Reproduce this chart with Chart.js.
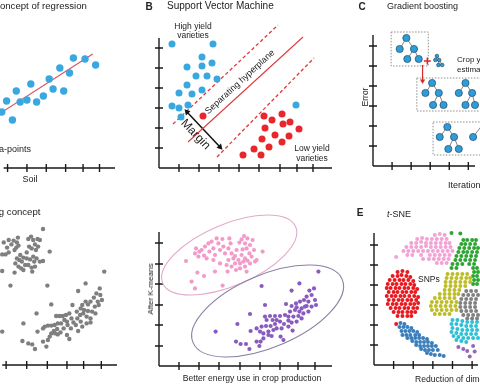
<!DOCTYPE html>
<html>
<head>
<meta charset="utf-8">
<script src="https://cdn.jsdelivr.net/npm/chart.js@4.4.1/dist/chart.umd.min.js"></script>
<style>
  html, body { margin: 0; padding: 0; background: #fff; }
  #fig { position: relative; width: 480px; height: 384px; overflow: hidden; background: #fff;
         font-family: "Liberation Sans", Arial, sans-serif; color: #222; }
  #fig canvas { position: absolute; left: 0; top: 0; }
  .t { position: absolute; white-space: nowrap; line-height: 1; }
  .l { transform: translate(0, -50%); }
  .c { transform: translate(-50%, -50%); }
  .r { transform: translate(-100%, -50%); }
  .b { font-weight: bold; }
</style>
</head>
<body>
<div id="fig">
  <canvas id="cA" width="480" height="384"></canvas>
  <canvas id="cB" width="480" height="384"></canvas>
  <canvas id="cC" width="480" height="384"></canvas>
  <canvas id="cD" width="480" height="384"></canvas>
  <canvas id="cD2" width="480" height="384"></canvas>
  <canvas id="cE" width="480" height="384"></canvas>

  <!-- titres -->
  <div class="t l" style="left:-7px;top:6px;font-size:9.6px">Concept of regression</div>
  <div class="t c b" style="left:149px;top:7px;font-size:10px">B</div>
  <div class="t l" style="left:167px;top:6px;font-size:10px">Support Vector Machine</div>
  <div class="t c b" style="left:362px;top:7px;font-size:10px">C</div>
  <div class="t l" style="left:387px;top:6px;font-size:9px">Gradient boosting</div>
  <div class="t l" style="left:-39px;top:212px;font-size:9.6px">Clustering concept</div>
  <div class="t c b" style="left:360px;top:213px;font-size:10px">E</div>
  <div class="t l" style="left:387px;top:214px;font-size:9px"><i>t</i>-SNE</div>

  <!-- axes / annotations -->
  <div class="t r" style="left:31px;top:149px;font-size:9px">Data-points</div>
  <div class="t c" style="left:30px;top:179px;font-size:9px">Soil</div>
  <div class="t c" style="left:193px;top:26px;font-size:8.5px">High yield</div>
  <div class="t c" style="left:193px;top:35px;font-size:8.5px">varieties</div>
  <div class="t c" style="left:312px;top:148px;font-size:8.5px">Low yield</div>
  <div class="t c" style="left:312px;top:158px;font-size:8.5px">varieties</div>
  <div class="t c" style="left:240px;top:82px;font-size:9px;transform:translate(-50%,-50%) rotate(-42.5deg)">Separating hyperplane</div>
  <div class="t c" style="left:196px;top:134px;font-size:12px;transform:translate(-50%,-50%) rotate(46deg)">Margin</div>
  <div class="t l" style="left:457px;top:60px;font-size:8px">Crop yield</div>
  <div class="t l" style="left:457px;top:70px;font-size:8px">estimation</div>
  <div class="t c" style="left:365px;top:97px;font-size:8.5px;transform:translate(-50%,-50%) rotate(-90deg)">Error</div>
  <div class="t l" style="left:448px;top:185px;font-size:9px">Iterations</div>
  <div class="t c" style="left:151px;top:289px;font-size:8px;transform:translate(-50%,-50%) rotate(-90deg)">After K-means</div>
  <div class="t c" style="left:252px;top:378px;font-size:8.6px">Better energy use in crop production</div>
  <div class="t l" style="left:415px;top:379px;font-size:8.6px">Reduction of dimensions</div>
  <div class="t l" style="left:418px;top:279px;font-size:8.5px">SNPs</div>
</div>

<script>
// ---- A : régression ----
const aTicks = [10, 20, 30, 40, 49, 57.5];
const soilPoints = [[7,28],[9.5,33.5],[14.5,38.5],[12.5,24],[16.5,33],[20,34],[22,42],[25,33],[28.5,36],[31.5,44.5],[33.5,39.5],[37,50],[39,38.5],[42,47.5],[44,55],[50,54.5],[55.5,51.5]];
const regLine = [[4,26],[54,57]];

// ---- B : SVM ----
const bTicksX = [10, 20, 30, 40, 50, 60.5, 69, 77];
const bTicksY = [10, 20, 30, 40, 50, 60];
const highYield = [[6.5,62],[27,62],[21.5,55.5],[14,50.5],[21.5,51],[26.5,52.5],[18.5,46],[24,46],[29,44.5],[14,41.5],[21.5,39],[10,37.5],[16.5,37],[6.5,31],[10,30],[14.5,31.5],[11,25.5],[68.5,31.5]];
const lowYield = [[22,26],[52.5,26],[61.5,27],[56.5,24],[53,20],[62,22],[65.5,23],[70,19.5],[58,16.5],[51.5,14.5],[65,16],[61.5,13],[55,10.5],[47.5,9.5],[42,6.5],[51,6.5]];
const hyperplane = [[14.5,13],[72,65.5]];
const marginUpper = [[7,22],[59.5,71.5]];
const marginLower = [[29,5.5],[77.5,55]];
const marginArrow = [[14,28],[30.5,10.5]];

// ---- C : gradient boosting ----
const cTicksX = [10, 20, 30, 40, 50];
const cTicksY = [10, 20, 30, 40, 50, 60];
// noeuds : racine, gauche, droite, droite-gauche, droite-droite
const tree1 = [[17.5,64],[14,58.5],[21.5,58.5],[18,53.5],[24,53.5]];
const treeSmall = [[33.5,55],[32.7,53],[34.7,53],[34.3,50.5],[36.3,50.5]];
const tree2 = [[31,41.5],[27.5,36.5],[34.5,36.5],[31.5,30.5],[37,30.5]];
const tree3 = [[48.5,41.5],[45,36.5],[52,36.5],[48.5,30.5],[53.5,30.5]];
const tree4 = [[39,19.5],[35,14.5],[42.5,14.5],[39.5,8.5],[45,8.5]];
const tree5 = [[56.5,19.5],[52.5,14.5],[60,14.5],[57,8.5],[62.5,8.5]];
const box1 = [[9.5,67],[29,67],[29,50],[9.5,50],[9.5,67]];
const box2 = [[23,44],[62,44],[62,27.5],[23,27.5],[23,44]];
const box3 = [[31.5,22],[62,22],[62,5.5],[31.5,5.5],[31.5,22]];
const plusMark = [[28.5,52.5]];
const boostArrow = [[26,50.5],[26,42.5]];

// ---- D : clustering ----
const dTicks = [10, 20.5, 31, 41, 49.5, 58.5];
const groupTop = [[28.8,68],[8.8,61.3],[10.5,58.7],[11.3,62.5],[12.7,60.3],[13.8,62.2],[15.5,61.3],[16,63.7],[14.3,57.5],[15.2,58.7],[16.3,59.7],[8,55.3],[9.7,55.3],[11.3,56.3],[15.5,53.3],[17.2,55],[16.7,52.5],[14.7,50.8],[18,51.7],[18.8,53.7],[19.7,50],[20.5,56.3],[21.3,63],[22.7,64.2],[23.8,62.5],[24.7,60.3],[26,63],[27.2,62.5],[21.7,59.2],[23,58.3],[25.2,57.5],[26.3,59.2],[20.5,53.3],[22.2,52.8],[23.8,54.2],[25.5,53.3],[27.2,51.7],[28.8,52],[21.3,50],[23,48.7],[24.7,49.2],[24.3,51.7],[17.7,48.3],[14.3,46.2],[16.3,49.2],[18.8,47.5],[23.3,46.7],[32.2,56.7],[8,47],[12.2,39.7],[31,39.7]];
const groupBottom = [[60,46.7],[50.5,40.8],[46.7,37],[57.7,38.3],[56,35.8],[54.7,33.7],[58,35],[58.8,32.5],[56.7,31.7],[57.2,30],[55.2,29.2],[53,31.7],[51.7,30.3],[50.5,31.7],[48.8,30],[48,28.3],[49.7,27.5],[51.7,27],[53.8,26.7],[55.5,25.8],[51,24.2],[53,23.3],[49.3,25.8],[47.7,25],[46,26.7],[46.3,23.3],[48,21.7],[45.5,20],[43.8,30],[43.3,23.3],[42.2,25.8],[40.5,25],[38.8,24.5],[37.2,24.5],[35.5,24.5],[33,30.3],[41,21.7],[39.7,22.5],[38,20.8],[36.3,20.8],[34.7,20],[33,19.7],[31.3,19.7],[29.7,19.2],[41.3,20],[43,18.3],[44.3,21.3],[46.7,17],[48.8,19.2],[51,20.8],[53,21.3],[39.3,18.3],[37.7,16.3],[36,18],[34.3,17],[33,15.8],[32.2,14.2],[31.3,12.5],[30.5,9.2],[28.8,11.7],[26,16.7],[25.5,25.8],[18.8,20.8],[28.8,18.3],[18.3,12],[21.3,10.8],[23.3,10.3],[24.7,8],[41,15],[42.2,13],[36.3,15.3],[35,15.8],[8,16.7]];

// ---- D2 : après K-means ----
const d2TicksX = [10, 20, 30, 40.5, 50.5, 60.5, 69.5, 78];
const d2TicksY = [10, 20.5, 30.5, 41, 51, 61.5];
const clusterPink = [[48.8,68.5],[13.5,52.5],[18,56.3],[18.5,58.8],[19.7,54.7],[21.3,58],[23,59.7],[22.5,55.2],[25.2,57.2],[26.3,62.2],[27.2,58.8],[28,55.5],[29.7,61.3],[30.5,58],[31.7,63.5],[32.2,59.7],[33,56.3],[34.7,58.8],[35.2,63.8],[35.8,61.3],[34.7,53],[36.3,56.3],[37.2,53.8],[38,51.3],[33.8,50.5],[34.3,47.2],[38.5,48],[40.5,48.8],[41.3,63.3],[42.5,65],[44.2,63.8],[43,61.3],[41.8,58.3],[43.8,58.8],[45.5,60.5],[46.8,63],[47.5,58],[45.2,56.3],[43,53.8],[44.2,52.7],[46.3,54.7],[48,52.2],[48.8,53],[41.3,55.5],[40.5,51.3],[43,49.7],[43.8,47.2],[39.7,53],[51.8,57.2],[19.2,46.7],[22.5,45],[28,47.2],[16.3,42.2],[18,38.8],[31.8,40.2],[27.2,53],[30.5,51.3],[24.7,61.3],[28.8,63.8],[38.8,58],[40.2,61.7],[42.2,52.2],[36.3,49.7],[38,55],[20.2,57.2],[23.8,53.8],[45.5,51.3]];
const clusterPurple = [[79.7,47.2],[70.2,41.3],[66.3,37.7],[77.5,38.8],[75.2,37.7],[76.3,35.5],[78,33],[73.8,34.7],[74.7,32.2],[72.5,33],[70.5,32.2],[68.5,31.3],[66.3,30],[76.3,29.7],[78.5,30.5],[73,29.7],[71.3,28.8],[74.7,27.2],[72.2,26.3],[70.2,27.2],[68,28],[65.5,27.2],[69.7,25],[67.2,24.7],[64.7,24.7],[71.3,23.8],[68.8,22.2],[66.3,21.7],[63,25.5],[60.5,25],[58,25],[55.5,25],[53,24.7],[63.5,31],[51.3,40],[53,30.5],[45.5,26],[39.2,21],[28.3,17.2],[45.8,17.5],[48.8,18.8],[51.3,19.7],[53.5,20],[55.8,20],[58,21],[60.5,22.2],[62.5,21],[64.7,19.7],[66.8,17.7],[61.3,18.8],[58.8,18.8],[57.2,18],[54.7,17.2],[52.2,16.3],[50.5,17.2],[52.2,13.8],[54.7,15.5],[56.3,15],[60.8,14.7],[62.2,13],[50.8,12.2],[48.8,12.2],[50.2,10],[38.5,12.2],[40.8,11],[43.5,11],[45.2,8.5],[58.8,23],[53.8,23],[56.8,23],[73.8,30],[68.8,29.3],[64.7,22.7]];
const kmeansRings = [
  { c: [35.1, 55.5], r: [36.1, 15.4], angle: 23, color: '#e2aac9' },
  { c: [54.3, 27.5], r: [40.5, 18.1], angle: 23, color: '#8c80a4' }
];

// ---- E : t-SNE ----
const eTicksX = [10, 20, 30, 40, 50];
const eTicksY = [10, 20, 30, 40, 50, 60];
const snePink = [[31,65],[33.5,65.5],[36,65],[22,63],[24.5,63.5],[27,63],[29.5,63],[32,63],[34.5,63],[37,63],[19,61],[21.5,61],[24,61.5],[26.5,61],[29,61],[31.5,61],[34,61],[36.5,61],[38.5,61],[16.5,59],[19,59],[21.5,59],[24,59],[26.5,59.5],[29,59],[31.5,59],[34,59],[36.5,59],[39,59],[15,57],[17.5,57],[20,57],[22.5,57],[25,57],[27.5,57],[30,57],[32.5,57],[35,57],[37.5,57],[40,57],[17,55],[19.5,55],[24,55],[28.5,55],[31,55],[33.5,55],[36,55],[38.5,55],[25,53],[28,53],[30.5,53],[33,53],[35.5,53],[38,53],[32,51],[34.5,51],[37,51],[11.3,54]];
const sneRed = [[12,46.5],[14.5,47],[17,46.5],[9.5,44.5],[12,44.5],[14,45],[16.5,44.5],[18.5,44],[8,42.5],[10.5,42.5],[13,42.5],[15,42.5],[17.5,42.5],[20,42],[7,40.5],[9.5,40.5],[11.5,40.5],[14,40.5],[16,40.5],[18.5,40.5],[20.5,40],[6.5,38.5],[8.5,38.5],[11,38.5],[13,38.5],[15.5,38.5],[17.5,38.5],[20,38.5],[22,38],[7.5,36.5],[10,36.5],[12,36.5],[14.5,36.5],[16.5,36.5],[19,36.5],[21,36.5],[6.5,34.5],[9,34.5],[11,34.5],[13.5,34.5],[15.5,34.5],[18,34.5],[20.5,34.5],[22.5,34],[7.5,32.5],[10,32.5],[12.5,32.5],[14.5,32.5],[17,32.5],[19,32.5],[21.5,32.5],[7,30.5],[9.5,30.5],[11.5,30.5],[14,30.5],[16,30.5],[18.5,30.5],[20.5,30.5],[22.5,31],[8.5,28.5],[11,28.5],[13,28.5],[15.5,28.5],[17.5,28.5],[20,28.5],[22,28.5],[10,26.5],[12.5,26.5],[14.5,26.5],[17,26.5],[19,26.5],[21,26.5],[12,24.5],[14.5,24.5],[17,24.5],[19,24.5],[11.3,20.5]];
const sneBlue = [[13.5,21],[15.5,20.5],[13,19],[15,19],[17,19],[19,18.5],[14,17],[16,17],[18,17],[20,17],[22,16.5],[14.5,15],[16.5,15],[18.5,15],[21,15],[23,15],[17,13.5],[19,13.5],[21,13.5],[23,13.5],[25,13.5],[27,13],[19.5,12],[21.5,11.5],[23.5,11.5],[25.5,11.5],[27.5,11.5],[29.5,11],[21.5,10],[23.5,9.5],[25.5,9.5],[27.5,9.5],[29.5,9.5],[31.5,9.5],[24,8],[26,7.5],[28,7.5],[30,7.5],[32.5,7.5],[27,6],[29,5.5],[31,5],[33.5,5],[35.5,4.5]];
const sneOlive = [[37.5,45.5],[40,45.5],[42.5,45.5],[45,45.5],[47.5,45.5],[37,43.5],[39.5,43.5],[42,43.5],[44.5,43.5],[47,43.5],[49,43.5],[36.5,41.5],[39,41.5],[41.5,41.5],[44,41.5],[46.5,41.5],[49,41.5],[36.5,39.5],[39,39.5],[41.5,39.5],[44,39.5],[46.5,39.5],[36,37.5],[38.5,37.5],[41,37.5],[43.5,37.5],[33.5,35.5],[36,35.5],[38.5,35.5],[41,35.5],[43,35.5],[31,33.5],[33.5,33.5],[36,33.5],[38.5,33.5],[41,33.5],[29.5,31.5],[32,31.5],[34.5,31.5],[37,31.5],[39.5,31.5],[42,31.5],[29,29.5],[31.5,29.5],[34,29.5],[36.5,29.5],[39,29.5],[41.5,29.5],[29.5,27.5],[32,27.5],[34.5,27.5],[37,27.5],[39.5,27.5],[42,27.5],[31,25.5],[33.5,25.5],[36,25.5],[38.5,25.5]];
const sneGreen = [[39.5,66],[44,65.8],[45.5,62.5],[47.5,62.5],[50,62.5],[52,62.5],[44.5,60.5],[46.5,60.5],[49,60.5],[51.5,60.5],[43.5,58.5],[46,58.5],[48.5,58.5],[51,58.5],[53,58.5],[43,56.5],[45.5,56.5],[47.5,56.5],[50,56.5],[52.5,56.5],[42,54.5],[44.5,54.5],[47,54.5],[49.5,54.5],[52,54.5],[41.5,52.5],[44,52.5],[46.5,52.5],[49,52.5],[51.5,52.5],[40,50.5],[42.5,50.5],[45,50.5],[48.5,50.5],[51,50.5],[39.5,48.5],[42,48.5],[50.5,48.5],[52.5,48.5],[51,46.5],[53,46.5],[50.5,44.5],[52.5,44.5],[51,42.5],[53,42.5],[50.5,40.5],[52.5,40.5]];
const sneGray = [[47,37],[49.5,37],[52,37],[45.5,35],[48,35],[50.5,35],[53,35],[44.5,33],[47,33],[49.5,33],[52,33],[44,31],[46.5,31],[49,31],[51.5,31],[44,29],[46.5,29],[49,29],[51.5,29],[44.5,27],[47,27],[49.5,27],[52,27],[45.5,25],[48,25],[50.5,25],[53,25],[47.5,23.3],[50,23.3],[52.5,23.3]];
const sneCyan = [[40,22.5],[42.5,22.5],[45,22],[47.5,21.5],[50,21.5],[52.5,21.5],[39.5,20.5],[42,20.5],[44.5,20],[47,19.5],[49.5,19.5],[52,19.5],[40,18.5],[42.5,18],[45,17.5],[47.5,17.5],[50,17.5],[52.5,17.5],[39.5,16.5],[42,16],[44.5,15.5],[47,15.5],[49.5,15.5],[52,15.5],[40.5,14.5],[43,14],[45.5,13.5],[48,13.5],[50.5,13.5],[53,13.5],[42,12.5],[44.5,12],[47,11.5]];
const snePurple = [[43,9],[45.5,8],[47.5,7],[48.8,4.3],[51.3,6.8],[50.5,9.5]];
const sneOrange = [[51.5,67.5],[53.5,68.5]];

// ---------- helpers ----------
const pts = arr => arr.map(([x, y]) => ({ x, y }));

function dots(arr, color, r, extra) {
  return Object.assign({ data: pts(arr), backgroundColor: color, borderWidth: 0,
    pointRadius: r, pointHoverRadius: r, clip: false, order: 1 }, extra || {});
}
function line(arr, color, w, dash) {
  return { data: pts(arr), showLine: true, borderColor: color, borderWidth: w,
    borderDash: dash || [], pointRadius: 0, clip: false, order: 3, spanGaps: false };
}
// arêtes d'un arbre : racine-gauche, racine-droite, droite-enfants
function treeEdges(t) {
  const [root, l, r, rl, rr] = t;
  return line([l, root, r, rl, [r[0], null], r, rr], '#6f6256', 0.8);
}
function treeNodes(t, radius) {
  return dots(t, '#2f9bd7', radius, { borderColor: '#1d4f70', borderWidth: 0.7 });
}

// axes avec graduations qui traversent l'axe
function crossAxes(xTicks, yTicks) {
  return {
    id: 'crossAxes',
    beforeDatasetsDraw(chart) {
      const { ctx, chartArea: a, scales: { x, y } } = chart;
      ctx.save();
      ctx.strokeStyle = '#1a1a1a';
      ctx.lineWidth = 1.4;
      ctx.beginPath();
      ctx.moveTo(a.left, a.bottom); ctx.lineTo(a.right, a.bottom);
      if (yTicks) { ctx.moveTo(a.left, a.top); ctx.lineTo(a.left, a.bottom); }
      xTicks.forEach(v => { const p = x.getPixelForValue(v); ctx.moveTo(p, a.bottom - 4); ctx.lineTo(p, a.bottom + 4); });
      (yTicks || []).forEach(v => { const p = y.getPixelForValue(v); ctx.moveTo(a.left - 4, p); ctx.lineTo(a.left + 4, p); });
      ctx.stroke();
      ctx.restore();
    }
  };
}

function rings(list) {
  return {
    id: 'rings',
    beforeDatasetsDraw(chart) {
      const { ctx, scales: { x, y } } = chart;
      ctx.save();
      list.forEach(e => {
        const cx = x.getPixelForValue(e.c[0]), cy = y.getPixelForValue(e.c[1]);
        const rx = Math.abs(x.getPixelForValue(e.c[0] + e.r[0]) - cx);
        const ry = Math.abs(y.getPixelForValue(e.c[1] + e.r[1]) - cy);
        ctx.beginPath();
        ctx.ellipse(cx, cy, rx, ry, -e.angle * Math.PI / 180, 0, Math.PI * 2);
        ctx.strokeStyle = e.color;
        ctx.lineWidth = 1.1;
        ctx.stroke();
      });
      ctx.restore();
    }
  };
}

function panel(id, pad, xr, yr, datasets, plugins) {
  return new Chart(document.getElementById(id), {
    type: 'scatter',
    data: { datasets },
    options: {
      responsive: false,
      animation: false,
      events: [],
      layout: { padding: pad },
      scales: {
        x: { type: 'linear', display: false, min: xr[0], max: xr[1] },
        y: { type: 'linear', display: false, min: yr[0], max: yr[1] }
      },
      plugins: { legend: { display: false }, tooltip: { enabled: false } }
    },
    plugins
  });
}

// ---------- panneaux ----------
panel('cA', { left: 0, top: 38, right: 365, bottom: 216 }, [8, 65.5], [0, 65], [
  dots(soilPoints, '#39a8e0', 3.7),
  line(regLine, '#d9535a', 1.2)
], [crossAxes(aTicks, null)]);

panel('cB', { left: 159, top: 38, right: 148, bottom: 216 }, [0, 86.5], [0, 65], [
  dots(highYield, '#39a8e0', 3.5),
  dots(lowYield, '#e8262b', 3.5),
  line(hyperplane, '#e0393c', 1.1),
  line(marginUpper, '#e0393c', 1.3, [3.5, 2.5]),
  line(marginLower, '#e0393c', 1.3, [3.5, 2.5]),
  line(marginArrow, '#111', 1.5),
  dots(marginArrow, '#111', 3.6, { pointStyle: 'triangle', pointRotation: [-43, 137], order: 0 })
], [crossAxes(bTicksX, bTicksY)]);

const trees = [tree1, tree2, tree3, tree4, tree5];
panel('cC', { left: 373, top: 35, right: 0, bottom: 218 }, [0, 53.5], [0, 65.5], [
  ...trees.map(t => treeNodes(t, 3.6)),
  treeNodes(treeSmall, 1.8),
  ...trees.map(treeEdges),
  treeEdges(treeSmall),
  line(box1, '#8f8f8f', 1, [1.5, 1.5]),
  line(box2, '#8f8f8f', 1, [1.5, 1.5]),
  line(box3, '#8f8f8f', 1, [1.5, 1.5]),
  dots(plusMark, '#e0262b', 3.5, { pointStyle: 'cross', borderColor: '#e0262b', borderWidth: 1.5 }),
  line(boostArrow, '#d42a2a', 1.2),
  dots([boostArrow[1]], '#d42a2a', 3, { pointStyle: 'triangle', pointRotation: 180, order: 0 })
], [crossAxes(cTicksX, cTicksY)]);

panel('cD', { left: 0, top: 229, right: 363, bottom: 19 }, [8, 66.5], [0, 68], [
  dots(groupTop, '#7f7f7f', 2.2),
  dots(groupBottom, '#7f7f7f', 2.2)
], [crossAxes(dTicks, null)]);

panel('cD2', { left: 159, top: 232, right: 148, bottom: 18 }, [0, 86.5], [0, 67], [
  dots(clusterPink, '#f39ac9', 2.1),
  dots(clusterPurple, '#8a5bbf', 2.1)
], [crossAxes(d2TicksX, d2TicksY), rings(kmeansRings)]);

panel('cE', { left: 374, top: 233, right: 0, bottom: 19 }, [0, 53], [0, 66], [
  dots(snePink, '#f2a2d4', 2),
  dots(sneRed, '#e8191f', 2),
  dots(sneBlue, '#3a7ebb', 2),
  dots(sneOlive, '#bdbd2a', 2),
  dots(sneGreen, '#2ea532', 2),
  dots(sneGray, '#808080', 2),
  dots(sneCyan, '#2ec0d4', 2),
  dots(snePurple, '#9467bd', 2),
  dots(sneOrange, '#f7a032', 2)
], [crossAxes(eTicksX, eTicksY)]);
</script>
</body>
</html>
